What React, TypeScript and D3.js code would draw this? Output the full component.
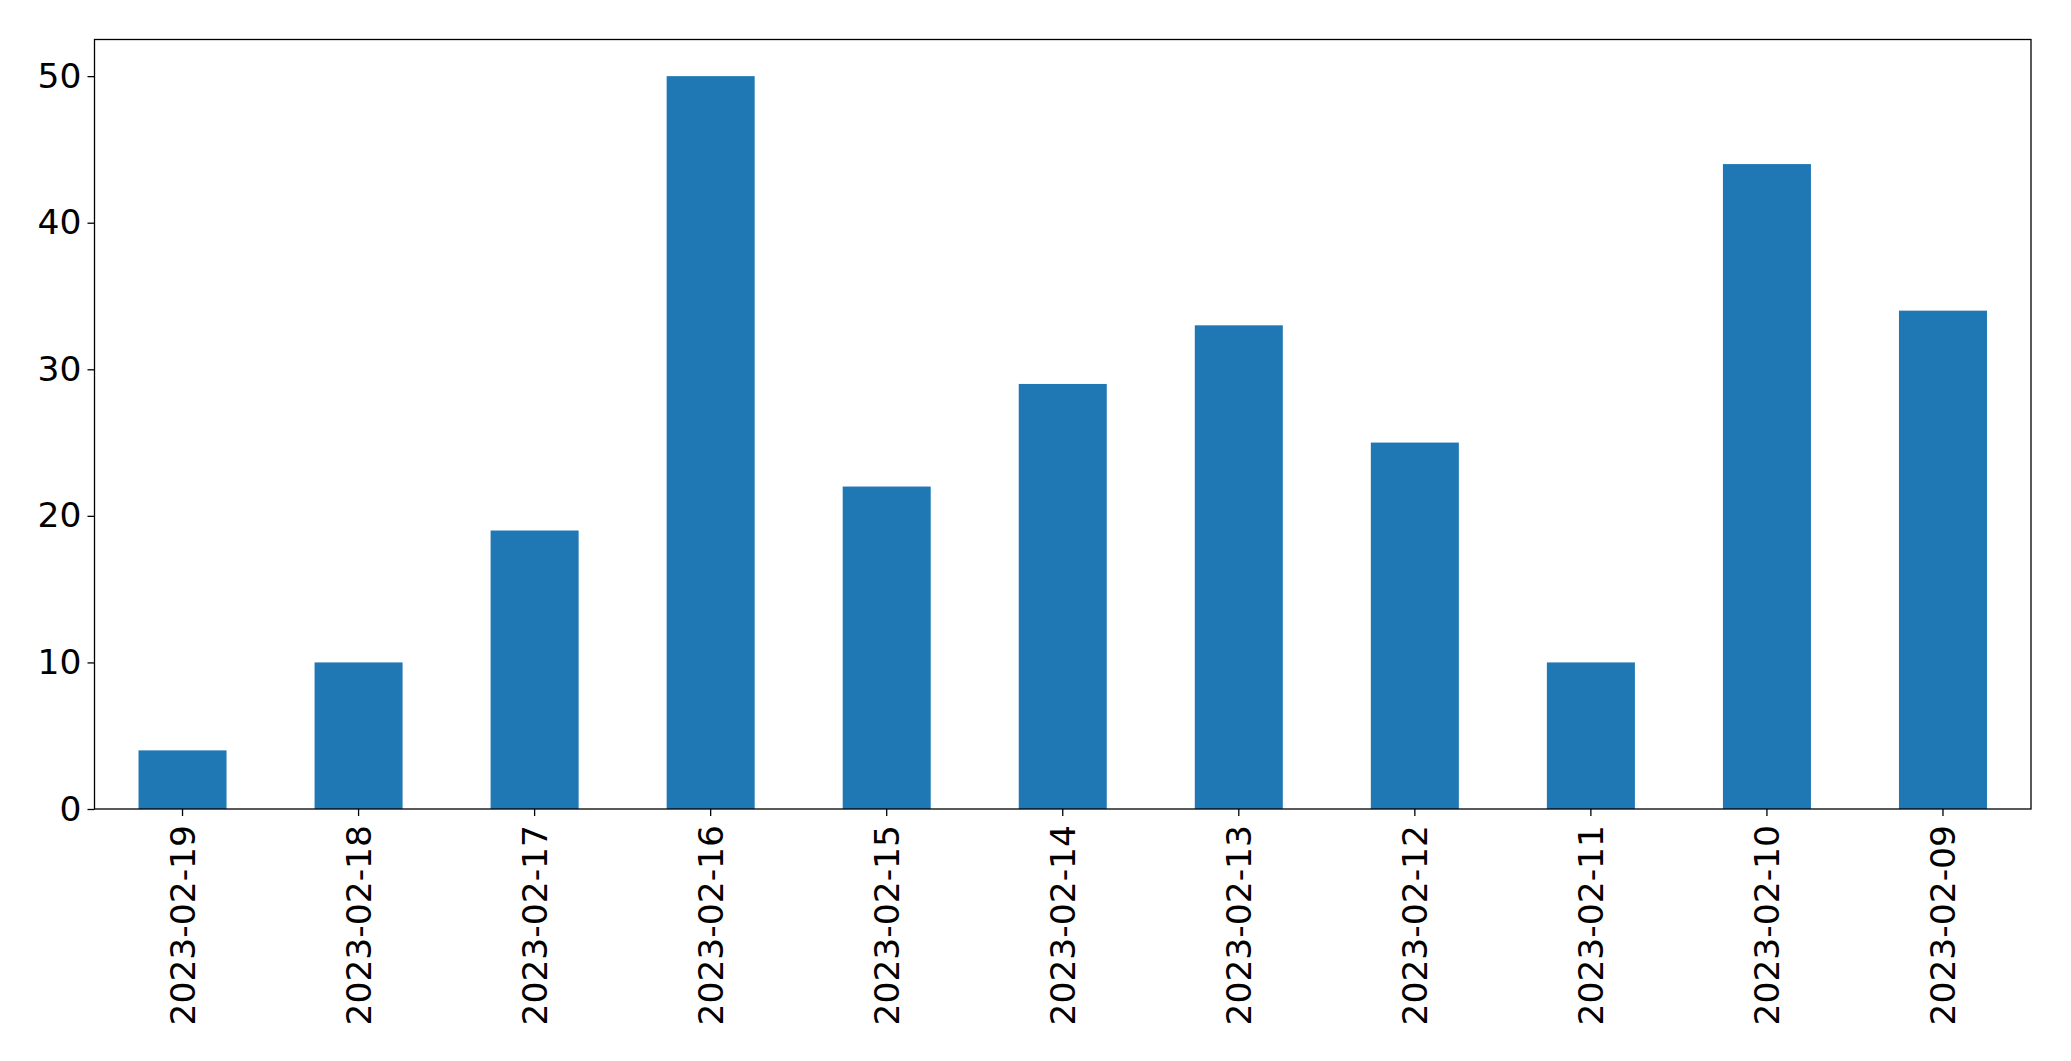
import { useEffect, useRef } from "react";
import * as d3 from "d3";

// ─── Data ────────────────────────────────────────────────────────────────────
const dates = [
  "2023-02-19",
  "2023-02-18",
  "2023-02-17",
  "2023-02-16",
  "2023-02-15",
  "2023-02-14",
  "2023-02-13",
  "2023-02-12",
  "2023-02-11",
  "2023-02-10",
  "2023-02-09",
];
const counts = [4, 10, 19, 50, 22, 29, 33, 25, 10, 44, 34];
const yTicks = [0, 10, 20, 30, 40, 50];

export default function App() {
  const svgRef = useRef<SVGSVGElement>(null);

  useEffect(() => {
    if (!svgRef.current) return;

    // ── Dimensions ─────────────────────────────────────────────────────────
    const width = 2071;
    const height = 1061;
    const margin = { top: 39.5, right: 40, bottom: 252, left: 94.5 };
    const innerWidth = width - margin.left - margin.right;
    const innerHeight = height - margin.top - margin.bottom;
    const font = "'DejaVu Sans', sans-serif";
    const fontSize = 34.5;

    const svg = d3.select(svgRef.current);
    svg.selectAll("*").remove();

    const g = svg
      .append("g")
      .attr("transform", `translate(${margin.left},${margin.top})`);

    // ── Scales ─────────────────────────────────────────────────────────────
    const x = d3
      .scaleBand()
      .domain(dates)
      .range([0, innerWidth])
      .paddingInner(0.5)
      .paddingOuter(0.25);

    const yMax = d3.max(counts) as number;
    const y = d3
      .scaleLinear()
      .domain([0, yMax * 1.05])
      .range([innerHeight, 0]);

    // ── Bars ───────────────────────────────────────────────────────────────
    g.selectAll(".bar")
      .data(dates.map((d, i) => ({ d, v: counts[i] })))
      .enter()
      .append("rect")
      .attr("class", "bar")
      .attr("x", (d) => x(d.d) as number)
      .attr("y", (d) => y(d.v))
      .attr("width", x.bandwidth())
      .attr("height", (d) => innerHeight - y(d.v))
      .attr("fill", "#1f77b4");

    // ── Axes ───────────────────────────────────────────────────────────────
    const yAxis = g
      .append("g")
      .call(
        d3.axisLeft(y).tickValues(yTicks).tickSize(7).tickPadding(6).tickFormat(d3.format("d"))
      );
    yAxis.select(".domain").remove();
    yAxis
      .selectAll("text")
      .attr("font-family", font)
      .attr("font-size", fontSize)
      .attr("fill", "#000");
    yAxis.selectAll("line").attr("stroke", "#000").attr("stroke-width", 1.3);

    const xAxis = g
      .append("g")
      .attr("transform", `translate(0,${innerHeight})`)
      .call(d3.axisBottom(x).tickSize(7).tickSizeOuter(0));
    xAxis.select(".domain").remove();
    xAxis.selectAll("line").attr("stroke", "#000").attr("stroke-width", 1.3);
    xAxis
      .selectAll("text")
      .attr("font-family", font)
      .attr("font-size", fontSize)
      .attr("fill", "#000")
      .attr("text-anchor", "end")
      .attr("transform", "rotate(-90)")
      .attr("x", -16)
      .attr("y", 0)
      .attr("dy", "0.36em");

    // ── Frame ──────────────────────────────────────────────────────────────
    g.append("rect")
      .attr("x", 0)
      .attr("y", 0)
      .attr("width", innerWidth)
      .attr("height", innerHeight)
      .attr("fill", "none")
      .attr("stroke", "#000")
      .attr("stroke-width", 1.3);
  }, []);

  return (
    <svg
      ref={svgRef}
      width="2071"
      height="1061"
      viewBox="0 0 2071 1061"
      style={{ position: "absolute", left: 0, top: 0, background: "#fff" }}
    />
  );
}
